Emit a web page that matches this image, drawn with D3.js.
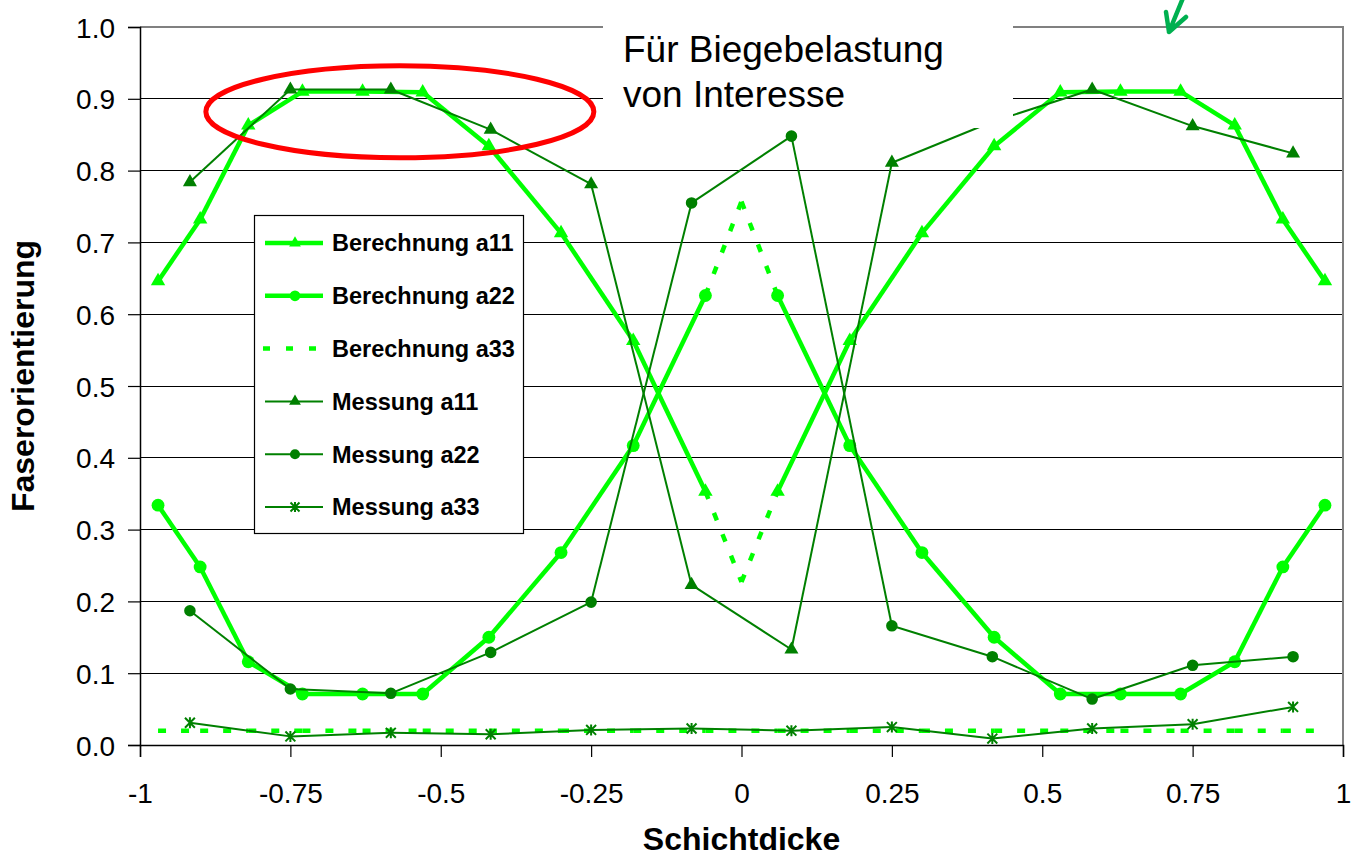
<!DOCTYPE html>
<html>
<head>
<meta charset="utf-8">
<script src="https://cdn.jsdelivr.net/npm/d3@7"></script>
<style>
  html, body { margin: 0; padding: 0; background: #fff; }
  svg { display: block; font-family: "Liberation Sans", Arial, sans-serif; }
</style>
</head>
<body>
<svg id="chart" width="1354" height="858"></svg>
<script>
// Layer positions (normalised thickness) for the calculated profiles
const calcX = [-0.97, -0.90, -0.82, -0.73, -0.63, -0.53, -0.42, -0.30, -0.18, -0.06, 0,
                0.06, 0.18, 0.30, 0.42, 0.53, 0.63, 0.73, 0.82, 0.90, 0.97];
const calcA11 = [0.646, 0.732, 0.863, 0.910, 0.910, 0.909, 0.834, 0.713, 0.563, 0.353, 0.227,
                 0.353, 0.563, 0.713, 0.834, 0.909, 0.910, 0.910, 0.863, 0.732, 0.646];
const calcA22 = [0.334, 0.248, 0.116, 0.071, 0.071, 0.071, 0.150, 0.268, 0.417, 0.626, 0.757,
                 0.626, 0.417, 0.268, 0.150, 0.071, 0.071, 0.071, 0.116, 0.248, 0.334];
const calcA33 = [0.02, 0.02, 0.02, 0.02, 0.02, 0.02, 0.02, 0.02, 0.02, 0.02, 0.02,
                 0.02, 0.02, 0.02, 0.02, 0.02, 0.02, 0.02, 0.02, 0.02, 0.02];
// Core layer: no marker, joined with dashed segments
const calcCoreX = [0];

// Measured layers
const measX = [-0.917, -0.75, -0.583, -0.417, -0.25, -0.083, 0.083, 0.25, 0.417, 0.583, 0.75, 0.917];
const measA11 = [0.784, 0.913, 0.913, 0.857, 0.781, 0.223, 0.133, 0.811, 0.868, 0.913, 0.862, 0.824];
const measA22 = [0.187, 0.078, 0.072, 0.129, 0.199, 0.755, 0.848, 0.166, 0.123, 0.064, 0.111, 0.123];
const measA33 = [0.031, 0.012, 0.017, 0.015, 0.021, 0.023, 0.020, 0.025, 0.009, 0.023, 0.029, 0.053];

const xTicks = [-1, -0.75, -0.5, -0.25, 0, 0.25, 0.5, 0.75, 1];
const xTickLabels = ["-1", "-0.75", "-0.5", "-0.25", "0", "0.25", "0.5", "0.75", "1"];
const yTicks = [0, 0.1, 0.2, 0.3, 0.4, 0.5, 0.6, 0.7, 0.8, 0.9, 1.0];

const xTitle = "Schichtdicke";
const yTitle = "Faserorientierung";
const noteLines = ["Für Biegebelastung", "von Interesse"];

const LIGHT = "#00ff00";
const DARK = "#008000";

const svg = d3.select("#chart");
const x = d3.scaleLinear().domain([-1, 1]).range([140, 1343]);
const y = d3.scaleLinear().domain([0, 1]).range([745, 27]);

// Gridlines
svg.append("g")
  .selectAll("line")
  .data(yTicks.filter(v => v > 0 && v < 1))
  .join("line")
  .attr("x1", x(-1)).attr("x2", x(1))
  .attr("y1", d => y(d)).attr("y2", d => y(d))
  .attr("stroke", "#000").attr("stroke-width", 1).attr("shape-rendering", "crispEdges");

// Plot frame (top and right)
svg.append("path")
  .attr("d", `M${x(-1)},${y(1)}H${x(1)}V${y(0)}`)
  .attr("fill", "none").attr("stroke", "#808080").attr("stroke-width", 1.5)
  .attr("shape-rendering", "crispEdges");

// Axes
const yAxis = d3.axisLeft(y).tickValues(yTicks).tickFormat(d3.format(".1f")).tickSize(12).tickPadding(13);
const gy = svg.append("g").attr("transform", `translate(${x(-1)},0)`).call(yAxis);
const xAxis = d3.axisBottom(x).tickValues(xTicks).tickFormat((d, i) => xTickLabels[i]).tickSize(12).tickPadding(26);
const gx = svg.append("g").attr("transform", `translate(0,${y(0)})`).call(xAxis);
[gx, gy].forEach(g => {
  g.selectAll("path.domain").attr("stroke", "#000").attr("stroke-width", 1.5);
  g.selectAll(".tick line").attr("stroke", "#000").attr("stroke-width", 1.2);
  g.selectAll("text").attr("fill", "#000").attr("font-size", 28)
    .attr("font-family", "'Liberation Sans', Arial, sans-serif");
});
gy.selectAll("text").attr("dy", "0.36em");

// Axis titles
svg.append("text")
  .attr("x", x(0)).attr("y", 850)
  .attr("text-anchor", "middle").attr("font-weight", "bold").attr("font-size", 32)
  .text(xTitle);
svg.append("text")
  .attr("transform", `translate(34,376) rotate(-90)`)
  .attr("text-anchor", "middle").attr("font-weight", "bold").attr("font-size", 32)
  .text(yTitle);

// Marker shapes
const triPath = size => d3.symbol().type(d3.symbolTriangle).size(size)();
const circPath = size => d3.symbol().type(d3.symbolCircle).size(size)();
const starPath = r => `M0,${-r}V${r}M${-r * 0.9},${-r * 0.9}L${r * 0.9},${r * 0.9}M${-r * 0.9},${r * 0.9}L${r * 0.9},${-r * 0.9}`;

const dash = "8,15";

// Draw a series segment by segment, so each segment restarts its dash pattern
function drawSeries(xs, ys, opt) {
  const g = svg.append("g");
  for (let i = 0; i < xs.length - 1; i++) {
    const dashed = opt.dashed || isCore(opt, xs[i]) || isCore(opt, xs[i + 1]);
    g.append("line")
      .attr("x1", x(xs[i])).attr("y1", y(ys[i]))
      .attr("x2", x(xs[i + 1])).attr("y2", y(ys[i + 1]))
      .attr("stroke", opt.color).attr("stroke-width", opt.width)
      .attr("stroke-dasharray", dashed ? dash : null)
      .attr("stroke-linecap", "butt");
  }
  if (!opt.marker) return;
  xs.forEach((xv, i) => {
    if (isCore(opt, xv)) return;
    const m = g.append("path")
      .attr("transform", `translate(${x(xv)},${y(ys[i])})`)
      .attr("d", opt.marker);
    if (opt.stroked) {
      m.attr("fill", "none").attr("stroke", opt.color).attr("stroke-width", 2);
    } else {
      m.attr("fill", opt.color);
    }
  });
}
function isCore(opt, xv) {
  return opt.core ? calcCoreX.includes(xv) : false;
}

// Calculated profiles
drawSeries(calcX.filter(v => !calcCoreX.includes(v)), calcA33.filter((v, i) => !calcCoreX.includes(calcX[i])),
  { color: LIGHT, width: 4.5, dashed: true, marker: null });
drawSeries(calcX, calcA22, { color: LIGHT, width: 4.5, core: true, marker: circPath(130) });
drawSeries(calcX, calcA11, { color: LIGHT, width: 4.5, core: true, marker: triPath(90) });

// Measured profiles
drawSeries(measX, measA33, { color: DARK, width: 2, marker: starPath(5.5), stroked: true });
drawSeries(measX, measA22, { color: DARK, width: 2, marker: circPath(105) });
drawSeries(measX, measA11, { color: DARK, width: 2, marker: triPath(85) });

// Note box with annotation text
svg.append("rect")
  .attr("x", 603).attr("y", 0).attr("width", 410).attr("height", 128)
  .attr("fill", "#fff");
svg.append("g").selectAll("text")
  .data(noteLines)
  .join("text")
  .attr("x", 623).attr("y", (d, i) => 62 + i * 45)
  .attr("font-size", 37).attr("fill", "#000")
  .text(d => d);

// Highlight of the bending-relevant region
svg.append("ellipse")
  .attr("cx", x(-0.568)).attr("cy", y(0.882))
  .attr("rx", 194).attr("ry", 46)
  .attr("fill", "none").attr("stroke", "#ff0000").attr("stroke-width", 5);

// Hand-drawn arrow
svg.append("path")
  .attr("d", "M1183,-2L1169,32M1166,12L1169,32L1186,17")
  .attr("fill", "none").attr("stroke", "#00b050").attr("stroke-width", 4.5)
  .attr("stroke-linecap", "round").attr("stroke-linejoin", "round");

// Legend
const legendItems = [
  { name: "Berechnung a11", color: LIGHT, width: 4.5, marker: triPath(60) },
  { name: "Berechnung a22", color: LIGHT, width: 4.5, marker: circPath(90) },
  { name: "Berechnung a33", color: LIGHT, width: 4.5, dashed: true },
  { name: "Messung a11", color: DARK, width: 2, marker: triPath(60) },
  { name: "Messung a22", color: DARK, width: 2, marker: circPath(80) },
  { name: "Messung a33", color: DARK, width: 2, marker: starPath(5), stroked: true }
];
const lg = svg.append("g");
lg.append("rect")
  .attr("x", 254.5).attr("y", 215.5).attr("width", 269).attr("height", 318)
  .attr("fill", "#fff").attr("stroke", "#000").attr("stroke-width", 1.2);
legendItems.forEach((it, i) => {
  const cy = 243 + i * 52.8;
  const row = lg.append("g");
  row.append("line")
    .attr("x1", it.dashed ? 263 : 265).attr("x2", 323).attr("y1", cy).attr("y2", cy)
    .attr("stroke", it.color).attr("stroke-width", it.width)
    .attr("stroke-dasharray", it.dashed ? "7,16" : null);
  if (it.marker) {
    const m = row.append("path").attr("transform", `translate(295,${cy})`).attr("d", it.marker);
    if (it.stroked) m.attr("fill", "none").attr("stroke", it.color).attr("stroke-width", 2);
    else m.attr("fill", it.color);
  }
  row.append("text")
    .attr("x", 332).attr("y", cy).attr("dy", "0.36em")
    .attr("font-size", 23.5).attr("font-weight", "bold").attr("fill", "#000")
    .text(it.name);
});
</script>
</body>
</html>
